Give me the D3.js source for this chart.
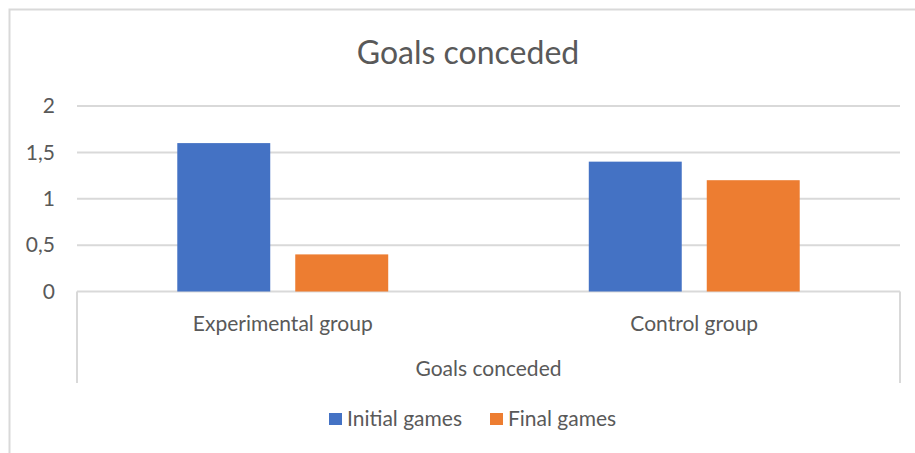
<!DOCTYPE html>
<html>
<head>
<meta charset="utf-8">
<script src="https://cdn.jsdelivr.net/npm/d3@7"></script>
<style>
  html, body { margin: 0; padding: 0; background: #fff; }
  svg { display: block; font-family: Lato, "Open Sans", sans-serif; }
</style>
</head>
<body>
<svg id="chart" width="915" height="453"></svg>
<script>
// Chart data
const categories = ["Experimental group", "Control group"];
const seriesNames = ["Initial games", "Final games"];
const initialGames = [1.6, 1.4];
const finalGames = [0.4, 1.2];
const yTicks = [0, 0.5, 1, 1.5, 2];
const chartTitle = "Goals conceded";
const axisTitle = "Goals conceded";

const colors = ["#4472C4", "#ED7D31"];
const textColor = "#595959";
const lineColor = "#D9D9D9";
const labelSize = "21px";

const svg = d3.select("#chart");

// Chart frame
svg.append("path")
  .attr("d", "M9.5,460 V9.5 H920")
  .attr("fill", "none")
  .attr("stroke", lineColor)
  .attr("stroke-width", 2);

const plot = { left: 77, right: 900, top: 106, bottom: 291.5 };

const x0 = d3.scaleBand().domain(categories).range([plot.left, plot.right]);
const x1 = d3.scaleBand().domain(seriesNames)
  .range([0, x0.bandwidth()])
  .paddingInner(0.212)
  .paddingOuter(0.85);
const y = d3.scaleLinear().domain([0, 2]).range([plot.bottom, plot.top]);

// Horizontal gridlines
svg.append("g").selectAll("line").data(yTicks).join("line")
  .attr("x1", plot.left).attr("x2", plot.right)
  .attr("y1", d => y(d)).attr("y2", d => y(d))
  .attr("stroke", lineColor).attr("stroke-width", 2);

// Value axis labels
const yAxis = d3.axisLeft(y).tickValues(yTicks)
  .tickFormat(d => String(d).replace(".", ","))
  .tickSize(0).tickPadding(0);
const yg = svg.append("g").attr("transform", `translate(55,0)`).call(yAxis);
yg.select(".domain").remove();
yg.selectAll("text")
  .attr("fill", textColor)
  .style("font-size", labelSize)
  .style("font-family", "Lato, sans-serif");

// Bars
const rows = categories.map((c, i) => ({ cat: c, values: [initialGames[i], finalGames[i]] }));
const groups = svg.append("g").selectAll("g").data(rows).join("g")
  .attr("transform", d => `translate(${x0(d.cat)},0)`);
groups.selectAll("rect")
  .data(d => d.values.map((v, j) => ({ name: seriesNames[j], value: v, j })))
  .join("rect")
  .attr("x", d => x1(d.name))
  .attr("width", x1.bandwidth())
  .attr("y", d => y(d.value))
  .attr("height", d => y(0) - y(d.value))
  .attr("fill", d => colors[d.j]);

// Category axis box (multi-level)
svg.append("path")
  .attr("d", `M${plot.left},383 V${plot.bottom} M${plot.right},383 V${plot.bottom}`)
  .attr("fill", "none")
  .attr("stroke", lineColor)
  .attr("stroke-width", 2);

svg.append("g").selectAll("text").data(categories).join("text")
  .attr("x", d => x0(d) + x0.bandwidth() / 2)
  .attr("y", 331)
  .attr("text-anchor", "middle")
  .attr("fill", textColor)
  .style("font-size", labelSize)
  .text(d => d);

svg.append("text")
  .attr("x", (plot.left + plot.right) / 2)
  .attr("y", 376)
  .attr("text-anchor", "middle")
  .attr("fill", textColor)
  .style("font-size", labelSize)
  .text(axisTitle);

// Title
svg.append("text")
  .attr("x", 468)
  .attr("y", 64)
  .attr("text-anchor", "middle")
  .attr("fill", textColor)
  .style("font-size", "32px")
  .text(chartTitle);

// Legend
const legend = svg.append("g").attr("transform", "translate(329,0)");
let lx = 0;
seriesNames.forEach((name, i) => {
  const item = legend.append("g").attr("transform", `translate(${lx},0)`);
  item.append("rect").attr("x", 0).attr("y", 413).attr("width", 13).attr("height", 12)
    .attr("fill", colors[i]);
  const t = item.append("text").attr("x", 18).attr("y", 426)
    .attr("fill", textColor).style("font-size", labelSize).text(name);
  lx += 18 + t.node().getComputedTextLength() + 28;
});
</script>
</body>
</html>
